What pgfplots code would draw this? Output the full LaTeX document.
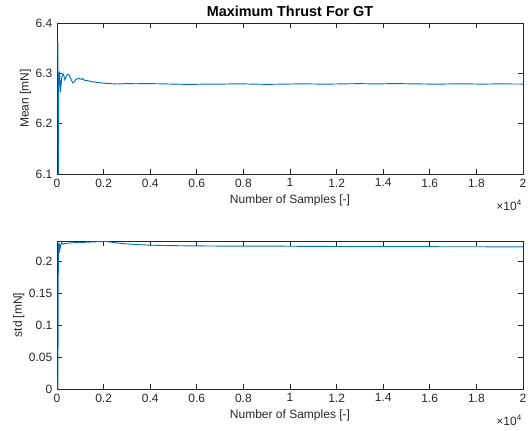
\documentclass[border=0pt]{standalone}
\usepackage{fontspec}
\setmainfont{Liberation Sans}
\usepackage{pgfplots}
\pgfplotsset{compat=1.18}
\definecolor{mlblue}{RGB}{0,114,189}
\definecolor{axgray}{RGB}{38,38,38}

% running mean of the thrust samples [mN]
\pgfplotstableread{
n mean
40 6.362
55 6.100
70 6.250
85 6.300
110 6.302
130 6.286
150 6.262
175 6.278
200 6.290
230 6.297
260 6.299
300 6.294
340 6.287
380 6.292
420 6.296
470 6.298
520 6.297
570 6.292
620 6.286
680 6.281
740 6.283
800 6.287
860 6.289
920 6.290
980 6.289
1050 6.288
1100 6.290
1150 6.287
1200 6.286
1300 6.2855
1400 6.2845
1500 6.2835
1650 6.2825
1800 6.2815
2000 6.2805
2200 6.2798
2400 6.2792
2600 6.2788
2800 6.2792
3000 6.2796
3400 6.2793
3800 6.2797
4200 6.2794
4600 6.2790
5000 6.2786
5400 6.2782
5800 6.2780
6200 6.2784
6600 6.2787
7000 6.2785
7400 6.2789
7800 6.2792
8200 6.2788
8600 6.2784
9000 6.2781
9400 6.2783
9800 6.2786
10200 6.2789
10600 6.2791
11000 6.2788
11400 6.2785
11800 6.2787
12200 6.2790
12600 6.2793
13000 6.2795
13400 6.2792
13800 6.2790
14200 6.2794
14600 6.2796
15000 6.2793
15400 6.2790
15800 6.2788
16200 6.2785
16600 6.2787
17000 6.2790
17400 6.2792
17800 6.2789
18200 6.2786
18600 6.2788
19000 6.2791
19400 6.2789
20000 6.2787
}\meandata

% running standard deviation of the thrust samples [mN]
\pgfplotstableread{
n std
40 0.000
48 0.120
56 0.190
65 0.215
75 0.228
90 0.212
105 0.217
120 0.224
140 0.221
170 0.226
200 0.2285
240 0.2270
280 0.2262
320 0.2272
400 0.2276
500 0.2281
700 0.2286
900 0.2290
1100 0.2291
1300 0.2295
1500 0.2298
1800 0.2303
2100 0.2306
2300 0.2296
2600 0.2282
3000 0.2267
3500 0.2256
4000 0.2248
4500 0.2243
5000 0.2240
6000 0.2236
7000 0.2234
8000 0.2232
9000 0.2233
10000 0.2231
11000 0.2229
12000 0.2227
13000 0.2226
14000 0.2225
15000 0.2225
16000 0.2224
17000 0.2223
18000 0.2223
19000 0.2222
20000 0.2222
}\stddata

\begin{document}
\begin{tikzpicture}
\useasboundingbox (0,0) rectangle (396pt,323.25pt);
\pgfplotsset{
  panel/.style={
    scale only axis,
    width=349.5pt,
    anchor=south west,
    xmin=0, xmax=20000,
    xtick={0,2000,...,20000},
    xticklabels={0,0.2,0.4,0.6,0.8,1,1.2,1.4,1.6,1.8,2},
    scaled ticks=false,
    tick align=inside,
    major tick length=3.75pt,
    axis on top=false,
    axis line style={axgray, line width=0.5pt},
    tick style={axgray, line width=0.5pt},
    ticklabel style={font=\fontsize{9}{10}\selectfont, text=axgray},
    label style={font=\fontsize{9}{10}\selectfont, text=axgray},
    xlabel={Number of Samples [-]},
    xlabel style={yshift=1pt},
    ylabel shift=-3.5pt,
    clip=true,
  },
}
\begin{axis}[panel,
  at={(42.75pt,192.75pt)},
  height=113.25pt,
  ymin=6.1, ymax=6.4,
  ytick={6.1,6.2,6.3,6.4},
  yticklabels={6.1,6.2,6.3,6.4},
  ylabel={Mean [mN]},
  title={Maximum Thrust For GT},
  title style={font=\bfseries\fontsize{10.8}{12}\selectfont, yshift=-4.5pt},
]
\addplot[mlblue, line width=0.7pt] table[x=n, y=mean] {\meandata};
\end{axis}
\node[font=\fontsize{9}{10}\selectfont, text=axgray, anchor=north east]
  at (395pt,177pt) {×10\textsuperscript{4}};

\begin{axis}[panel,
  at={(42.75pt,31.5pt)},
  height=111pt,
  ymin=0, ymax=0.2313,
  ytick={0,0.05,0.1,0.15,0.2},
  yticklabels={0,0.05,0.1,0.15,0.2},
  ylabel={std [mN]},
]
\addplot[mlblue, line width=0.7pt] table[x=n, y=std] {\stddata};
\end{axis}
\node[font=\fontsize{9}{10}\selectfont, text=axgray, anchor=north east]
  at (395pt,15.75pt) {×10\textsuperscript{4}};
\end{tikzpicture}
\end{document}
